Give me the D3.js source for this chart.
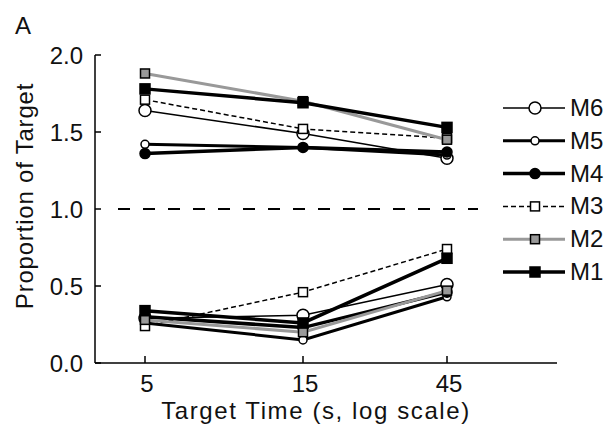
<!DOCTYPE html>
<html>
<head>
<meta charset="utf-8">
<script src="https://cdn.jsdelivr.net/npm/d3@7"></script>
<style>
  body { margin: 0; background: #fff; }
  text { font-family: "Liberation Sans", Arial, sans-serif; fill: #111; }
</style>
</head>
<body>
<svg id="chart" width="608" height="428"></svg>
<script>
// target times (s)
const times = [5, 15, 45];
const series = ["M6", "M5", "M4", "M3", "M2", "M1"];

// proportion of target, one array per monkey: upper arm and lower arm
const upperM1 = [1.78, 1.69, 1.53];
const upperM2 = [1.88, 1.70, 1.45];
const upperM3 = [1.71, 1.52, 1.46];
const upperM4 = [1.36, 1.40, 1.37];
const upperM5 = [1.42, 1.40, 1.35];
const upperM6 = [1.64, 1.49, 1.33];

const lowerM1 = [0.34, 0.26, 0.68];
const lowerM2 = [0.28, 0.20, 0.47];
const lowerM3 = [0.24, 0.46, 0.74];
const lowerM4 = [0.30, 0.23, 0.46];
const lowerM5 = [0.26, 0.15, 0.43];
const lowerM6 = [0.29, 0.31, 0.51];

const yTicks = [0, 0.5, 1.0, 1.5, 2.0];

// styles per monkey
const style = {
  M6: {stroke: "#000", width: 1.5, dash: null, shape: "circle", size: 6, fill: "#fff"},
  M5: {stroke: "#000", width: 3, dash: null, shape: "circle", size: 4, fill: "#fff"},
  M4: {stroke: "#000", width: 3.5, dash: null, shape: "circle", size: 5, fill: "#000"},
  M3: {stroke: "#000", width: 1.5, dash: "5,3", shape: "square", size: 9, fill: "#fff"},
  M2: {stroke: "#999", width: 3, dash: null, shape: "square", size: 9, fill: "#999"},
  M1: {stroke: "#000", width: 3.5, dash: null, shape: "square", size: 10, fill: "#000"}
};

const data = {
  M1: [upperM1, lowerM1], M2: [upperM2, lowerM2], M3: [upperM3, lowerM3],
  M4: [upperM4, lowerM4], M5: [upperM5, lowerM5], M6: [upperM6, lowerM6]
};

const svg = d3.select("#chart");

const x = d3.scaleLog().domain([5, 15, 45]).range([145, 303, 447]);
const y = d3.scaleLinear().domain([0, 2]).range([363, 55]);

const axisLeft = 95, axisRight = 557;
const fs = 24;

// axes
svg.append("line").attr("x1", axisLeft).attr("x2", axisLeft)
  .attr("y1", y(2)).attr("y2", y(0)).attr("stroke", "#000").attr("stroke-width", 1.5);
svg.append("line").attr("x1", axisLeft).attr("x2", axisRight)
  .attr("y1", y(0)).attr("y2", y(0)).attr("stroke", "#000").attr("stroke-width", 1.5);

svg.selectAll(".ytick").data(yTicks).enter().append("line")
  .attr("x1", axisLeft).attr("x2", axisLeft + 6)
  .attr("y1", d => y(d)).attr("y2", d => y(d))
  .attr("stroke", "#000").attr("stroke-width", 1.5);
svg.selectAll(".ylab").data(yTicks).enter().append("text")
  .attr("x", 83).attr("y", d => y(d) + 9)
  .attr("text-anchor", "end").attr("font-size", fs)
  .text(d => d3.format(".1f")(d));

svg.selectAll(".xtick").data(times).enter().append("line")
  .attr("x1", d => x(d)).attr("x2", d => x(d))
  .attr("y1", y(0)).attr("y2", y(0) - 7)
  .attr("stroke", "#000").attr("stroke-width", 1.5);
svg.selectAll(".xlab").data(times).enter().append("text")
  .attr("x", d => x(d) + 2).attr("y", 392)
  .attr("text-anchor", "middle").attr("font-size", fs)
  .text(d => d);

svg.append("text").attr("x", 316).attr("y", 419)
  .attr("text-anchor", "middle").attr("font-size", fs)
  .attr("letter-spacing", 1.6)
  .text("Target Time (s, log scale)");
svg.append("text").attr("transform", "translate(33,196) rotate(-90)")
  .attr("text-anchor", "middle").attr("font-size", fs)
  .attr("letter-spacing", 0.8)
  .text("Proportion of Target");
svg.append("text").attr("x", 15).attr("y", 34).attr("font-size", fs).text("A");

// reference line at 1.0
svg.append("line").attr("x1", 118).attr("x2", 478)
  .attr("y1", y(1)).attr("y2", y(1))
  .attr("stroke", "#000").attr("stroke-width", 2).attr("stroke-dasharray", "12,13");

function marker(g, s, cx, cy) {
  if (s.shape === "circle") {
    g.append("circle").attr("cx", cx).attr("cy", cy).attr("r", s.size)
      .attr("fill", s.fill).attr("stroke", "#000").attr("stroke-width", 1.5);
  } else {
    g.append("rect").attr("x", cx - s.size / 2).attr("y", cy - s.size / 2)
      .attr("width", s.size).attr("height", s.size)
      .attr("fill", s.fill).attr("stroke", "#000").attr("stroke-width", 1.5);
  }
}

const line = d3.line().x((d, i) => x(times[i])).y(d => y(d));

// draw series (M6 first, M1 on top)
series.forEach(name => {
  const s = style[name];
  const g = svg.append("g");
  data[name].forEach(vals => {
    g.append("path").attr("d", line(vals)).attr("fill", "none")
      .attr("stroke", s.stroke).attr("stroke-width", s.width)
      .attr("stroke-dasharray", s.dash);
  });
  data[name].forEach(vals => {
    vals.forEach((v, i) => marker(g, s, x(times[i]), y(v)));
  });
});

// legend
const legY = d3.scalePoint().domain(series).range([108, 272]);
series.forEach(name => {
  const s = style[name];
  const g = svg.append("g");
  const ly = legY(name);
  g.append("line").attr("x1", 503).attr("x2", 565).attr("y1", ly).attr("y2", ly)
    .attr("stroke", s.stroke).attr("stroke-width", s.width)
    .attr("stroke-dasharray", s.dash);
  marker(g, s, 535, ly);
  g.append("text").attr("x", 570).attr("y", ly + 8).attr("font-size", fs).text(name);
});
</script>
</body>
</html>
